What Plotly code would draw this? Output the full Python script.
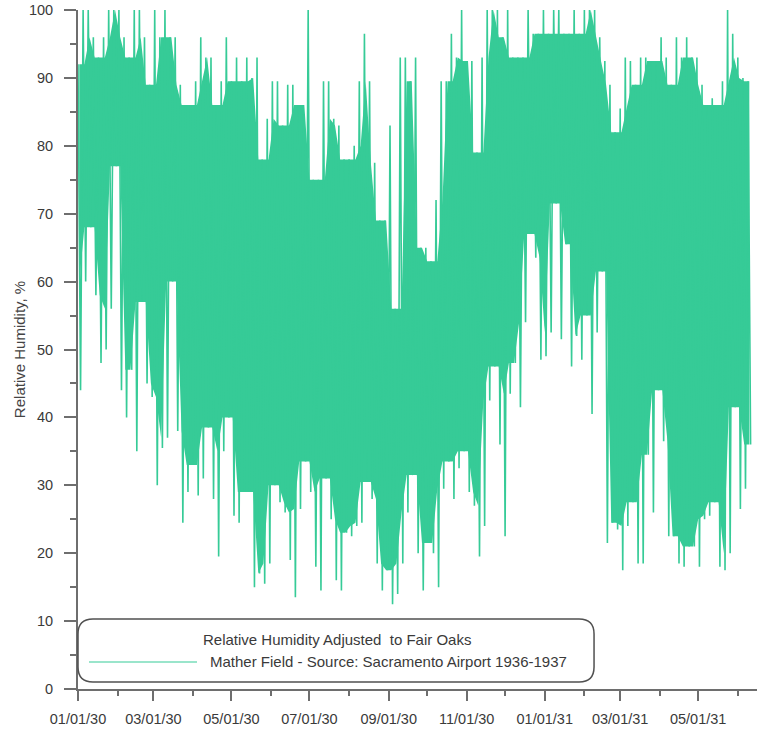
import pandas as pd
import plotly.graph_objects as go

# Relative humidity, Mather Field (adjusted to Fair Oaks)
start_date = "1930-01-01"
bin_days = 4

rh_high = [
    92, 100, 100, 96, 93, 96, 100, 100, 100, 96, 93, 100, 100, 96, 89,      # Jan-Feb 30
    100, 96, 100, 96, 96, 89, 86, 86, 89.5, 96, 93, 93, 86, 89.5, 96,      # Mar-Apr 30
    89.5, 93, 89.5, 93, 90, 93, 78, 84, 89.5, 89.5, 83, 89, 89, 86, 86,    # May-Jun 30
    100, 75, 75, 89.5, 89.5, 84, 83, 78, 78, 80, 89.5, 96.5, 89.5, 77.5,   # Jul-Aug 30
    69, 69, 83, 56, 93, 93, 89.5, 93, 65, 65, 63, 72, 89.5, 89.5, 96.5,    # Sep-Oct 30
    93, 100, 92.5, 92.5, 79, 93, 100, 100, 100, 96, 100, 93, 93, 93, 100,  # Nov-Dec 30
    96.5, 96.5, 100, 96.5, 100, 100, 96.5, 96.5, 100, 96.5, 100, 100, 100,
    96, 92.5, 89, 82, 85.5, 93, 92.5, 89, 93, 93, 92.5, 92.5, 96, 93,      # Feb-Mar 31
    89, 96, 93, 96, 93, 93, 89, 86, 87, 86, 89.5, 100, 96.5, 93, 90, 89.5,  # Apr-Jun 31
]

rh_low = [
    44, 60, 68, 58, 48, 50, 56, 77, 44, 40, 47, 35, 57, 45, 43,
    30, 35.5, 37, 60, 38, 24.5, 29, 33, 28.5, 31, 38.5, 28, 19.5, 35, 40,
    25.5, 24.5, 29, 29, 15, 17, 15.5, 18.5, 30, 27.5, 26, 19, 13.5, 26.5, 33.5,
    29, 18, 14.5, 31, 25, 16, 14.5, 23, 22.5, 24, 24.5, 30.5, 28, 18.5,
    14.5, 17.5, 12.5, 14, 18.5, 26, 31.5, 20, 14.5, 21.5, 20, 15, 29.5, 33.5, 28,
    32.5, 35, 29, 27, 19.5, 24, 42.5, 47.5, 36, 22.5, 43.5, 48, 41.5, 54, 67,
    63.5, 48.5, 49, 52.5, 71.5, 51.5, 65.5, 47.5, 52, 48.5, 55, 40.5, 52.5,
    61.5, 21.5, 24.5, 23.5, 17.5, 24, 27.5, 18.5, 18.5, 34.5, 26, 44, 36.5, 22.5,
    22.5, 18.5, 18, 21, 21, 18, 25, 25.5, 27.5, 18, 17.5, 20, 41.5, 26.5, 29.5, 36, 36,
]

legend_title = "Relative Humidity Adjusted\u00a0 to Fair Oaks"
series_name = "Mather Field - Source: Sacramento Airport 1936-1937"

start = pd.Timestamp(start_date)
n = len(rh_high)

# alternate high / low inside each bin so the line zigzags like the hourly record
xs, ys = [], []
for i in range(n):
    day0 = start + pd.Timedelta(days=bin_days * i)
    xs += [day0, day0 + pd.Timedelta(days=bin_days / 2)]
    ys += [rh_high[i], rh_low[i]]

# solid core of the band: lowest high / highest low of the neighbouring bins
core_x, core_top, core_bot = [], [], []
for i in range(n):
    win = slice(max(i - 1, 0), i + 2)
    top = min(rh_high[win])
    bot = max(rh_low[win])
    core_x.append(start + pd.Timedelta(days=bin_days * i + 1))
    core_top.append(top)
    core_bot.append(min(bot, top))

line_color = "#36cb97"
axis_color = "#6e6e6e"
text_color = "#3a3a3a"
font_family = "Arial, Liberation Sans, sans-serif"

fig = go.Figure()
fig.add_trace(go.Scatter(x=core_x, y=core_top, mode="lines",
                         line=dict(width=0, color=line_color),
                         showlegend=False, hoverinfo="skip"))
fig.add_trace(go.Scatter(x=core_x, y=core_bot, mode="lines", fill="tonexty",
                         fillcolor=line_color, line=dict(width=0, color=line_color),
                         showlegend=False, hoverinfo="skip"))
fig.add_trace(go.Scatter(
    x=xs, y=ys, mode="lines",
    line=dict(color=line_color, width=1.6),
    name=series_name, showlegend=False,
))

fig.update_layout(
    width=757, height=731,
    margin=dict(l=78, r=0, t=10, b=42),
    plot_bgcolor="white", paper_bgcolor="white",
    font=dict(family=font_family, size=14.5, color=text_color),
)

fig.update_xaxes(
    range=["1930-01-01", "1931-06-16"],
    tickformat="%m/%d/%y", dtick="M2", tick0="1930-01-01",
    ticks="outside", ticklen=10, tickwidth=1.5, tickcolor=axis_color,
    minor=dict(dtick="M1", ticks="outside", ticklen=5, tickwidth=1.5, tickcolor=axis_color),
    showline=True, linecolor=axis_color, linewidth=2,
    showgrid=False, zeroline=False, ticklabelstandoff=6, automargin=False,
)
fig.update_yaxes(
    range=[0, 100], dtick=10,
    ticks="outside", ticklen=12, tickwidth=1.5, tickcolor=axis_color,
    minor=dict(dtick=5, ticks="outside", ticklen=6, tickwidth=1.5, tickcolor=axis_color),
    showline=True, linecolor=axis_color, linewidth=2,
    showgrid=False, zeroline=False, ticklabelstandoff=8, automargin=False,
    ticklabeloverflow="allow",
    title=dict(text="Relative Humidity, %", standoff=0, font=dict(size=15, color="#444")),
)

# hand-drawn legend box with rounded corners
x0, x1, y0, y1, r = 0.0, 0.760, 0.0103, 0.1031, 0.022
box = (f"M {x0 + r},{y0} L {x1 - r},{y0} Q {x1},{y0} {x1},{y0 + r} "
       f"L {x1},{y1 - r} Q {x1},{y1} {x1 - r},{y1} L {x0 + r},{y1} "
       f"Q {x0},{y1} {x0},{y1 - r} L {x0},{y0 + r} Q {x0},{y0} {x0 + r},{y0} Z")
fig.add_shape(type="path", path=box, xref="paper", yref="paper",
              line=dict(color="#505050", width=1.5), fillcolor="white", layer="above")
fig.add_shape(type="line", xref="paper", yref="paper",
              x0=0.0162, x1=0.1753, y0=0.0398, y1=0.0398,
              line=dict(color=line_color, width=1.2), layer="above")
fig.add_annotation(text=legend_title, xref="paper", yref="paper", x=0.381, y=0.0736,
                   xanchor="center", yanchor="middle", showarrow=False,
                   font=dict(size=15, color=text_color))
fig.add_annotation(text=series_name, xref="paper", yref="paper", x=0.1915, y=0.0398,
                   xanchor="left", yanchor="middle", showarrow=False,
                   font=dict(size=15, color=text_color))

# drop the default 8px page margin so the figure fills the window
fig.write_html("out.html", config={"displayModeBar": False},
               post_script="document.body.style.margin='0';")
